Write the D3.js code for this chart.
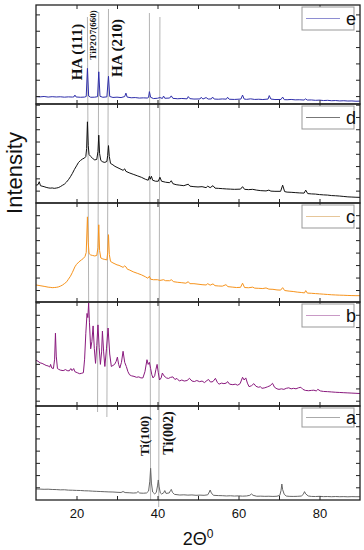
<!DOCTYPE html>
<html>
<head>
<meta charset="utf-8">
<script src="https://cdnjs.cloudflare.com/ajax/libs/d3/7.8.5/d3.min.js"></script>
<style>
  body { margin: 0; background: #fff; }
  .frame { fill: none; stroke: #222; stroke-width: 1.3; }
  .tick line { stroke: #222; }
</style>
</head>
<body>
<div id="container"></div>
<script>
// ---- data (2-theta, intensity in arbitrary units, 0..100 per panel) ----
var labels = ["e", "d", "c", "b", "a"];

var patternE = [[10,7.5],[11,7.2],[12,7.6],[13,7.0],[14,7.4],[15,7.1],[16,7.3],[17,6.9],[18,7.2],[19,7.0],
  [19.4,7.3],[19.6,9.0],[19.9,7.1],[21,6.8],[22,7.0],[22.4,7.6],[22.7,36],[23.0,8.0],[23.5,6.8],[24.5,6.9],
  [25.2,7.4],[25.5,32.5],[25.8,7.8],[26.5,6.8],[27.5,7.2],[27.9,28],[28.2,7.6],[29,6.6],[30,6.9],[31,6.5],
  [31.9,7.5],[32.2,11],[32.5,7.0],[33.5,6.3],[34.5,6.5],[35.5,6.0],[36.5,6.2],[37.6,6.0],[37.8,7.0],[38.0,12.5],
  [38.3,6.8],[39,5.5],[40,5.8],[40.6,6.5],[41.2,5.6],[41.5,8.0],[41.8,5.8],[43.0,6.0],[43.4,8.2],[43.8,5.7],
  [45,5.3],[46,5.6],[47.3,5.2],[47.6,7.5],[48,5.4],[49,5.0],[50.5,5.1],[50.8,6.8],[51.2,5.0],[52,6.5],[52.5,5.0],
  [53.3,5.1],[53.6,7.0],[54,5.0],[55,4.8],[56,5.1],[57.0,4.9],[57.3,6.8],[57.7,4.8],[59,4.6],[60.6,5.0],[61.0,9.0],
  [61.4,5.0],[62,4.7],[63,5.2],[64,4.6],[65,4.8],[66,4.5],[67.3,5.0],[67.6,8.5],[68,5.0],[69,4.5],[70.5,4.6],
  [70.9,7.0],[71.3,4.4],[72,4.3],[73,4.6],[74,4.2],[75,4.3],[76.2,4.0],[76.5,5.2],[77,4.0],[78,4.1],[79,3.7],
  [80,3.9],[81,3.5],[82,3.7],[83,3.3],[84,3.5],[85,3.1],[86,3.3],[87,3.0],[88,3.1],[89,2.8],[90,2.9]];

var patternD = [[10,18],[10.5,18.5],[10.8,21.5],[11.1,17.5],[11.5,17],[12,16.5],[12.5,15.8],[13,15.3],[13.5,15],
  [14,15.2],[14.5,14.8],[15,15.1],[15.5,15.5],[16,16.5],[16.5,17.8],[17,19],[17.5,21],[18,23.5],[18.5,26.5],
  [19,30],[19.5,34],[20,37.5],[20.5,41],[21,43],[21.5,44.5],[22,45.5],[22.3,47],[22.5,55],[22.7,82],[22.9,58],
  [23.1,49],[23.5,47],[24,45],[24.5,43.5],[25,44],[25.3,52],[25.5,68.5],[25.7,50],[26,43],[26.5,41.5],[27,41],
  [27.5,42],[27.7,48],[27.9,58],[28.1,47],[28.4,40],[29,38.5],[29.5,37],[30,36],[30.5,35],[31,34],[31.5,33],
  [31.9,34.5],[32.2,32],[33,30.5],[34,29],[35,27.5],[36,26],[37,24],[37.7,23],[38.0,27],[38.2,24],[38.5,27],
  [38.8,23],[39.5,22],[40.2,22],[40.6,26],[41,22],[42,21],[43,20.5],[43.4,22.5],[43.8,19.5],[44.6,18.5],
  [45.5,18],[46.5,17.5],[47.6,19],[48,17],[49,16.5],[50,16.2],[51,16.5],[52,15.5],[52.4,17],[53,15.5],
  [53.7,17.5],[54.2,15],[55,14.8],[56,14.5],[57,14.2],[58,14],[59,13.8],[60.5,14],[61,16.5],[61.5,13.8],
  [62.5,13.5],[63.5,13.8],[64.5,13],[65.5,12.5],[66.8,12.2],[67.5,13],[68,12],[69,11.8],[70.4,11.8],[70.9,18],
  [71.4,11.5],[72,11],[73,10.8],[74,10.5],[75,10.2],[76.2,10],[76.6,13],[77.1,9.5],[78,9.2],[79,9],[80,8.5],
  [81,8.2],[82,8],[83,7.5],[84,7.3],[85,7],[86,6.6],[87,6.2],[88,6],[89,5.8],[90,5.7]];

var patternC = [[10,17.2],[11,16.5],[12,15.8],[13,15],[13.5,14.8],[14,14.5],[14.5,14.6],[15,14.8],[15.5,15.2],
  [16,16],[16.5,17],[17,18.5],[17.6,20.5],[18,23],[18.5,26],[19,30],[19.6,35.5],[20,38],[20.6,40.5],[21.2,42.5],
  [21.7,44],[22.1,46],[22.4,50],[22.7,86],[22.9,60],[23.1,49],[23.5,47.5],[24,47],[24.5,46.5],[25,47],[25.3,55],
  [25.5,78],[25.7,52],[26,44.5],[26.5,43.5],[27,43],[27.5,42.5],[27.7,50],[27.9,68],[28.1,48],[28.4,41],[29,39.5],
  [29.5,38.5],[30,37.5],[30.5,37],[31,36],[31.5,35],[31.9,36.5],[32.2,35.5],[32.6,33],[33,32.5],[34,30.5],[35,29],
  [36,27.5],[37,25.5],[37.6,24],[38.0,26],[38.3,23],[39,22.5],[40,22.5],[40.6,21.8],[41.5,22.5],[42,21.5],[43,21.5],
  [43.4,22.5],[44,20.5],[45,19.9],[46,19.5],[47,19],[47.6,20.5],[48,18.5],[49,18.5],[50,18],[51,17.5],[52,17.2],
  [52.4,18.5],[53,17],[53.7,18.3],[54.2,16.5],[55,16.2],[56,16],[56.9,17.5],[57.4,15.5],[58.6,15],[59.5,14.6],
  [60.5,14.8],[61.0,19],[61.5,14.6],[62.5,14.4],[63.5,15],[64,14],[65,13.8],[66,13.6],[66.8,14.2],[67.5,13],
  [68.5,12.8],[69.5,12.2],[70.4,12],[70.9,14.5],[71.4,11.6],[72.5,11],[73.5,10.6],[74.5,10],[75.5,9.6],[76.3,9.2],
  [76.6,11.5],[77,9],[78,8.8],[79,8.5],[80,8.2],[81,7.9],[82,7.6],[83,7.3],[84,7.1],[85,6.9],[86,6.8],[87,6.6],
  [88,6.5],[89,6.4],[90,6.4]];

var patternB = [[10,44],[10.5,43],[11,41.5],[11.5,41],[12,40],[12.5,39],[13,38.5],[13.4,37.5],[13.6,40],[13.9,36.5],
  [14.3,36],[14.6,45],[14.8,70],[15.0,48],[15.3,36],[15.5,35.5],[16,34.5],[16.7,34],[17.3,35],[17.7,34],[18.2,33.8],
  [18.6,36],[18.9,34],[19.3,36],[19.6,33],[20.2,32],[20.8,31],[21.3,31.5],[21.7,32],[22.0,45],[22.3,70],[22.6,89],
  [22.8,85],[23.0,99],[23.2,80],[23.5,55],[23.8,62],[24.1,77],[24.4,55],[24.7,41],[25.0,58],[25.3,78],[25.6,56],
  [25.9,40],[26.2,52],[26.4,72],[26.7,52],[27.0,38],[27.4,55],[27.8,75],[28.2,50],[28.6,38],[29.0,39],[29.4,40],
  [29.8,43],[30.1,47],[30.4,40],[30.7,36.5],[31.1,42],[31.5,52.6],[31.9,42],[32.3,38],[32.7,33],[33.1,30],[33.6,29],
  [34.2,28.5],[34.8,27.6],[35.4,28],[35.9,27],[36.4,27],[36.9,33],[37.4,44.5],[37.7,40],[38.0,42],[38.3,36],
  [38.6,30],[38.9,27],[39.3,29],[39.6,35],[39.9,40],[40.2,32],[40.5,25],[40.9,27],[41.2,31.7],[41.6,29],[42.2,27],
  [42.7,26.5],[43.2,27.5],[43.8,28],[44.3,25.5],[44.8,26.5],[45.4,24],[46,25],[46.6,24],[47.3,24.5],[47.9,26.6],
  [48.5,24],[49.1,23.5],[49.7,24.5],[50.4,23.4],[51,24],[51.6,22.5],[52.2,24.5],[52.6,25.5],[53.1,23],[53.7,23.5],
  [54.3,26.6],[54.8,22.5],[55.2,21],[55.8,22],[56.4,21.5],[57.0,22],[57.3,23.5],[57.8,21],[58.6,20.5],[59.2,21],
  [59.8,20],[60.4,21.5],[61.0,27.6],[61.4,25],[61.8,27],[62.2,22],[62.6,18.6],[63.2,19.5],[63.8,21.5],[64.3,19],
  [64.9,18],[65.4,18.5],[65.8,17],[66.5,17.5],[67.2,18.5],[67.8,19.5],[68.4,21.8],[68.9,18],[69.5,16.5],[70.0,16],
  [70.6,16.5],[71.2,16],[71.8,17],[72.4,17.5],[73.0,16.5],[73.6,17],[74.2,16.5],[74.8,17.5],[75.4,18],[75.9,16],
  [76.5,15],[77.3,14.7],[78.0,15],[78.6,15.2],[79.2,14.5],[79.6,16],[80.2,14.5],[81,14],[82,13.8],[83,13.5],
  [84,13.2],[85,13],[86,12.8],[87,12.6],[88,12.4],[89,12.2],[90,12]];

var patternA = [[10,11.7],[11,11.6],[12,11.4],[13,11.5],[14,11.2],[15,11.1],[16,10.8],[17,10.9],[18,10.5],[19,10.4],
  [20,10.2],[21,10.1],[22,9.8],[23,9.7],[24,9.4],[25,9.2],[26,9.0],[27,8.8],[28,8.6],[29,8.5],[30,8.2],[31,8.0],
  [31.5,9.0],[32,7.9],[33,7.7],[34,7.4],[34.8,7.6],[35.2,9],[35.6,7.4],[36.5,7.2],[37.3,7.5],[37.8,9.5],[38.1,20],
  [38.3,33.7],[38.5,18],[38.8,8.5],[39.3,6.5],[39.7,8],[40.0,15],[40.2,21.3],[40.4,14],[40.7,7.5],[41.0,6.4],
  [41.5,7.5],[41.8,10],[42.1,7],[42.9,7.5],[43.2,10],[43.4,11.3],[43.7,8],[44.2,6],[45.5,5.3],[46.5,5.5],[47.5,5.2],
  [48.5,5.4],[49.5,5.0],[50.5,5.2],[51.5,5.0],[52.4,5.5],[52.8,8.5],[53.0,10.6],[53.3,7.5],[53.8,5.0],[55,4.7],
  [56,4.6],[57,4.3],[58,4.5],[59,4.2],[60,4.4],[61,4.1],[62,4.3],[62.8,5],[63.2,6.4],[63.6,5],[64.5,4],[65.5,4.1],
  [66.5,3.9],[67.5,4],[68.5,3.8],[69.5,4],[70.2,5],[70.5,10],[70.7,17],[70.9,11],[71.3,6],[71.8,4.2],[72.5,3.9],
  [73.5,3.8],[74.5,3.9],[75.5,4.2],[76.0,6],[76.3,8.9],[76.6,6.5],[77.2,4.3],[78,3.8],[79,3.7],[80,3.9],[81,3.6],
  [82,3.7],[83,3.5],[84,3.7],[85,3.5],[86,3.6],[87,3.4],[88,3.6],[89,3.5],[90,3.5]];

// reference (peak) lines: 2-theta at top and at lower end of each line
var refTop = [22.7, 25.5, 27.9, 38.0, 40.6];
var refBottom = [23.0, 25.2, 27.5, 38.3, 40.3];

var xTickLabels = [20, 40, 60, 80];

// ---- layout ----
var width = 364, height = 550;
var left = 36, right = 360;
var panelEdges = [5, 104, 203, 302, 406, 500];

var patterns = [patternE, patternD, patternC, patternB, patternA];
var lineColors = ["#2e2eaa", "#111111", "#f7941d", "#8a1a7e", "#666666"];
var legendColors = ["#8e8ed2", "#777777", "#e6c699", "#c99ac6", "#aaaaaa"];
// tick start / step in data units, per panel
var yTickStart = [8, 12.5, 12.1, 5.1, 13.5];
var yTickStep = [16.5, 12.4, 12.6, 11.8, 13];

var svg = d3.select("#container").append("svg")
  .attr("width", width)
  .attr("height", height);

var x = d3.scaleLinear().domain([10, 90]).range([left, right]);

// reference lines drawn first so the patterns sit on top
var refEnds = [[17, 302], [12, 412], [9, 417], [13, 500], [17, 507]];
svg.append("g").selectAll("line")
  .data(refTop)
  .enter()
  .append("line")
  .attr("x1", function(d) { return x(d); })
  .attr("x2", function(d, i) { return x(refBottom[i]); })
  .attr("y1", function(d, i) { return refEnds[i][0]; })
  .attr("y2", function(d, i) { return refEnds[i][1]; })
  .style("stroke", "#b4b4b4")
  .style("stroke-width", 1);

labels.forEach(function(lab, i) {
  var top = panelEdges[i], bottom = panelEdges[i + 1];
  var y = d3.scaleLinear().domain([0, 100]).range([bottom, top]);
  var g = svg.append("g").attr("class", "panel");

  var line = d3.line()
    .x(function(d) { return x(d[0]); })
    .y(function(d) { return y(d[1]); });

  g.append("path")
    .datum(patterns[i])
    .attr("d", line)
    .style("fill", "none")
    .style("stroke", lineColors[i])
    .style("stroke-width", 1)
    .style("stroke-linejoin", "round");

  // inward ticks on all four sides
  var xt = d3.range(20, 90, 10);
  var yt = d3.range(yTickStart[i], 100, yTickStep[i]);
  g.append("g").attr("transform", "translate(0," + bottom + ")")
    .call(d3.axisBottom(x).tickValues(xt).tickSize(-4).tickFormat(""))
    .call(function(a) { a.select(".domain").remove(); });
  g.append("g").attr("transform", "translate(0," + top + ")")
    .call(d3.axisTop(x).tickValues(xt).tickSize(-4).tickFormat(""))
    .call(function(a) { a.select(".domain").remove(); });
  g.append("g").attr("transform", "translate(" + left + ",0)")
    .call(d3.axisLeft(y).tickValues(yt).tickSize(-4).tickFormat(""))
    .call(function(a) { a.select(".domain").remove(); });
  g.append("g").attr("transform", "translate(" + right + ",0)")
    .call(d3.axisRight(y).tickValues(yt).tickSize(-4).tickFormat(""))
    .call(function(a) { a.select(".domain").remove(); });

  g.append("rect")
    .attr("class", "frame")
    .attr("x", left)
    .attr("y", top)
    .attr("width", right - left)
    .attr("height", bottom - top);

  // legend box
  var lg = g.append("g").attr("transform", "translate(302," + (top + 2) + ")");
  lg.append("rect")
    .attr("width", 52)
    .attr("height", i == 4 ? 19 : 23)
    .style("fill", "#fff")
    .style("stroke", "#999")
    .style("stroke-width", 1);
  var ly = i == 4 ? 9.5 : 11.5;
  lg.append("line")
    .attr("x1", 4).attr("x2", 38)
    .attr("y1", ly).attr("y2", ly)
    .style("stroke", legendColors[i])
    .style("stroke-width", 1.2);
  lg.append("text")
    .attr("x", 44)
    .attr("y", ly + 6)
    .style("font-family", "Liberation Sans, Arial, sans-serif")
    .style("font-size", "18px")
    .style("fill", "#111")
    .text(lab);
});

// x tick labels under the bottom panel
svg.append("g")
  .attr("transform", "translate(0,500)")
  .call(d3.axisBottom(x).tickValues(xTickLabels).tickSize(0).tickPadding(9))
  .call(function(a) {
    a.select(".domain").remove();
    a.selectAll("text")
      .style("font-family", "Liberation Sans, Arial, sans-serif")
      .style("font-size", "13px")
      .style("fill", "#111");
  });

// axis titles
var xTitle = svg.append("text")
  .attr("x", 198)
  .attr("y", 545)
  .attr("text-anchor", "middle")
  .style("font-family", "Liberation Sans, Arial, sans-serif")
  .style("font-size", "18px")
  .style("fill", "#111");
xTitle.append("tspan").text("2\u0398");
xTitle.append("tspan").attr("dy", -7).style("font-size", "12px").text("0");

svg.append("text")
  .attr("transform", "translate(22,173) rotate(-90)")
  .attr("text-anchor", "middle")
  .style("font-family", "Liberation Sans, Arial, sans-serif")
  .style("font-size", "22px")
  .style("fill", "#111")
  .text("Intensity");

// peak annotations (bold serif, rotated to read upwards)
var notes = [
  { t: "HA (111)", x: 82, y: 52, s: 15 },
  { t: "TiP2O7(660)", x: 96, y: 35, s: 9 },
  { t: "HA (210)", x: 122, y: 48, s: 15 },
  { t: "Ti(100)", x: 149, y: 436, s: 13 },
  { t: "Ti(002)", x: 173, y: 433, s: 14 }
];
notes.forEach(function(d) {
  svg.append("g")
    .attr("transform", "translate(" + d.x + "," + d.y + ")")
    .append("text")
    .attr("x", 0)
    .attr("y", 0)
    .attr("transform", "rotate(-90)")
    .attr("text-anchor", "middle")
    .style("font-family", "Liberation Serif, Times New Roman, serif")
    .style("font-weight", "bold")
    .style("font-size", d.s + "px")
    .style("fill", "#111")
    .text(d.t);
});
</script>
</body>
</html>
